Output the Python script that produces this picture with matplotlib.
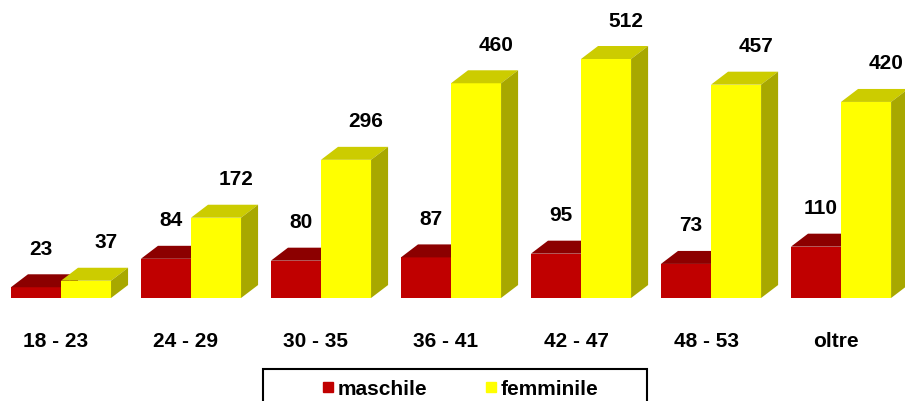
import matplotlib
matplotlib.use("Agg")
import matplotlib.pyplot as plt
from matplotlib.patches import Polygon, Rectangle
from matplotlib.lines import Line2D
import matplotlib.transforms as mtransforms

# ---- data ----
categories = ["18 - 23", "24 - 29", "30 - 35", "36 - 41", "42 - 47", "48 - 53", "oltre"]
maschile = [23, 84, 80, 87, 95, 73, 110]
femminile = [37, 172, 296, 460, 512, 457, 420]
series_names = ["maschile", "femminile"]

# ---- style ----
plt.rcParams['font.family'] = ['Liberation Sans', 'DejaVu Sans']
front_colors = ["#C00000", "#FFFF00"]
top_colors = ["#8C0000", "#CCCC00"]
side_colors = ["#780000", "#A8A800"]
label_dx_px = [5, 20]

fig = plt.figure(figsize=(9.05, 4.02), dpi=100)
ax = fig.add_axes([0, 103 / 402, 1, 299 / 402])
ax.set_xlim(-0.469, 6.492)
ax.set_ylim(0, 640.5)
for sp in ax.spines.values():
    sp.set_visible(False)
ax.set_yticks([])

w = 0.385      # bar width (category units)
dx = 0.131     # depth offset x
dy = 27.8      # depth offset y (value units)

for s, vals in enumerate([maschile, femminile]):
    z = 2 + s
    for i, v in enumerate(vals):
        x0 = i - w if s == 0 else i
        ax.bar(x0, v, width=w, align='edge', color=front_colors[s],
               edgecolor='none', zorder=z)
        top = Polygon([(x0, v), (x0 + dx, v + dy), (x0 + w + dx, v + dy), (x0 + w, v)],
                      closed=True, facecolor=top_colors[s], edgecolor='none', zorder=z)
        side = Polygon([(x0 + w, 0), (x0 + w + dx, dy), (x0 + w + dx, v + dy), (x0 + w, v)],
                       closed=True, facecolor=side_colors[s], edgecolor='none', zorder=z)
        ax.add_patch(top)
        ax.add_patch(side)
        ax.annotate(str(v), xy=(x0 + w / 2, v + dy),
                    xytext=(label_dx_px[s] * 0.72, 26 * 0.72), textcoords='offset points',
                    ha='center', va='center', fontsize=15, fontweight='bold',
                    color='black', zorder=5)

ax.set_xticks(range(len(categories)))
ax.set_xticklabels(categories, fontsize=15, fontweight='bold')
ax.tick_params(axis='x', length=0, pad=24)
shift = mtransforms.ScaledTranslation(-5 / 100, 0, fig.dpi_scale_trans)
for lab in ax.get_xticklabels():
    lab.set_transform(lab.get_transform() + shift)

# legend
handles = [Line2D([], [], marker='s', linestyle='none', markersize=7.2,
                  markerfacecolor=front_colors[k], markeredgecolor=front_colors[k])
           for k in range(2)]
leg = fig.legend(handles, series_names, loc='center',
                 bbox_to_anchor=(460 / 905, 1 - 390 / 402), ncol=2, frameon=False,
                 prop=dict(size=15, weight='bold'), handlelength=0.6,
                 handletextpad=0.15, columnspacing=2.8, borderpad=0)
frame = Rectangle((263 / 905, -0.05), 384 / 905, (402 - 370) / 402 + 0.05,
                  transform=fig.transFigure, fill=False, edgecolor='black', lw=1.5)
fig.add_artist(frame)

fig.savefig("out.png", dpi=100)
